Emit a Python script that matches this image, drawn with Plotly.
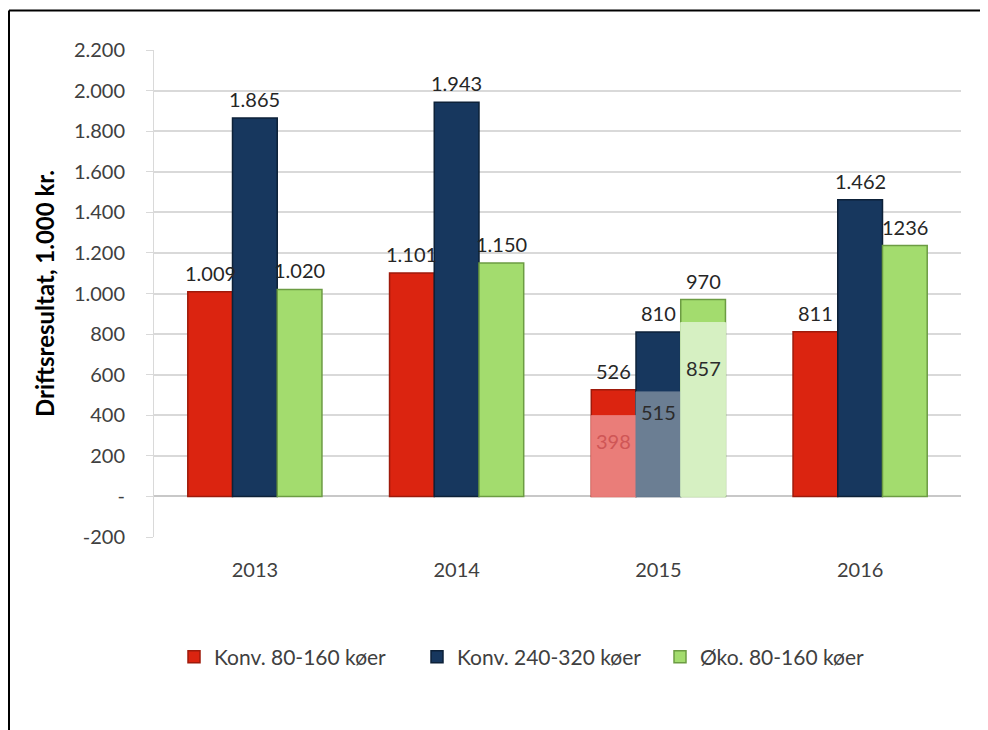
import plotly.graph_objects as go

years = ["2013", "2014", "2015", "2016"]
series_names = ["Konv. 80-160 køer", "Konv. 240-320 køer", "Øko. 80-160 køer"]
konv_small = [1009, 1101, 526, 811]
konv_large = [1865, 1943, 810, 1462]
oko_small = [1020, 1150, 970, 1236]
konv_small_labels = ["1.009", "1.101", "526", "811"]
konv_large_labels = ["1.865", "1.943", "810", "1.462"]
oko_small_labels = ["1.020", "1.150", "970", "1236"]

# 2015 inner (lighter) values
inner_year = ["2015"]
inner_konv_small = [398]
inner_konv_large = [515]
inner_oko_small = [857]

y_tickvals = [-200, 0, 200, 400, 600, 800, 1000, 1200, 1400, 1600, 1800, 2000, 2200]
y_ticktext = ["-200", "-", "200", "400", "600", "800", "1.000", "1.200", "1.400",
              "1.600", "1.800", "2.000", "2.200"]

FONT = "Lato, 'Open Sans', sans-serif"
colors = ["#db2410", "#17375e", "#a3dc6e"]
edge = ["#9e1a0b", "#0d2138", "#6c9c43"]
inner_colors = ["#ea7d79", "#6b7e93", "#d6f0c2"]
inner_text_colors = ["#cf5656", "#2b2b2b", "#2b2b2b"]
inner_yshift = [-25, -20, -45]
LABEL_SHIFT = 19

# figure geometry (page has an 8px body margin)
W, H = 980, 722
L, R, T, B = 146, 27, 42, 193
PW, PH = W - L - R, H - T - B
BARGAP = 0.335
bar_px = PW / len(years) * (1 - BARGAP) / 3


def px_x(x):
    return (x - L) / PW


def px_y(y):
    return (H - B - y) / PH


fig = go.Figure()
main = [konv_small, konv_large, oko_small]
labels = [konv_small_labels, konv_large_labels, oko_small_labels]
for i in range(3):
    fig.add_trace(go.Bar(
        x=years, y=main[i], name=series_names[i], offsetgroup=str(i),
        marker=dict(color=colors[i], line=dict(color=edge[i], width=1.5)),
    ))

inner = [inner_konv_small, inner_konv_large, inner_oko_small]
for i in range(3):
    fig.add_trace(go.Bar(
        x=inner_year, y=inner[i], offsetgroup=str(i), showlegend=False,
        marker=dict(color=inner_colors[i], line=dict(color=inner_colors[i], width=1)),
        hoverinfo="skip",
    ))

# value labels above bars (category axis: annotation x is the category index)
for i in range(3):
    for j, year in enumerate(years):
        fig.add_annotation(
            x=j, y=main[i][j], text=labels[i][j], showarrow=False,
            xref="x", yref="y", xshift=(i - 1) * bar_px, yshift=LABEL_SHIFT,
            yanchor="middle",
            font=dict(family=FONT, size=20, color="#262626"),
        )

inner_idx = years.index(inner_year[0])
for i in range(3):
    fig.add_annotation(
        x=inner_idx, y=inner[i][0], text=str(inner[i][0]), showarrow=False,
        xref="x", yref="y", xshift=(i - 1) * bar_px, yshift=inner_yshift[i],
        yanchor="middle",
        font=dict(family=FONT, size=20, color=inner_text_colors[i]),
    )

fig.update_layout(
    width=W, height=H,
    margin=dict(l=L, r=R, t=T, b=B),
    paper_bgcolor="white", plot_bgcolor="white",
    barmode="group", bargap=BARGAP, bargroupgap=0.0,
    font=dict(family=FONT, size=20, color="#404040"),
    showlegend=True,
    legend=dict(orientation="h", x=px_x(166), xanchor="left", y=px_y(649), yanchor="middle",
                font=dict(family=FONT, size=21, color="#404040"),
                entrywidth=198, entrywidthmode="pixels", tracegroupgap=0),
)
fig.update_yaxes(
    range=[-200, 2200], tickvals=y_tickvals, ticktext=y_ticktext,
    showgrid=True, gridcolor="#d9d9d9", gridwidth=1.5,
    showline=True, linecolor="#d9d9d9", linewidth=1,
    ticks="outside", ticklen=7, tickcolor="#d9d9d9",
    zeroline=True, zerolinecolor="#c8c8c8", zerolinewidth=1.5,
    ticklabelstandoff=17,
    tickfont=dict(family=FONT, size=20, color="#404040"),
    title=dict(text="<b>Driftsresultat, 1.000 kr.</b>", standoff=12,
               font=dict(family=FONT, size=24, color="#000000")),
)
fig.update_xaxes(
    type="category",
    showgrid=False, showline=False, ticks="",
    ticklabelstandoff=19,
    tickfont=dict(family=FONT, size=20, color="#404040"),
)

# outer frame (top and left edges visible)
fig.add_shape(type="line", xref="paper", yref="paper",
              x0=px_x(1), x1=px_x(W + 20), y0=px_y(2.5), y1=px_y(2.5),
              line=dict(color="black", width=2))
fig.add_shape(type="line", xref="paper", yref="paper",
              x0=px_x(1), x1=px_x(1), y0=px_y(2.5), y1=px_y(H + 20),
              line=dict(color="black", width=2))

fig.write_html("out.html")
